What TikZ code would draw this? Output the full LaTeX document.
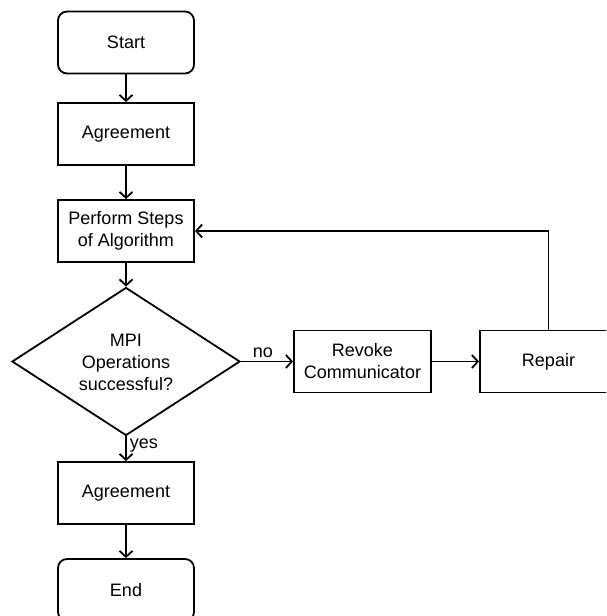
\documentclass[tikz,border=0pt]{standalone}
\usepackage{fontspec}
\setmainfont{Liberation Sans}
\usetikzlibrary{arrows.meta,shapes.geometric}
\begin{document}
\begin{tikzpicture}[x=1pt,y=-1pt,
  line width=1.8pt,
  >={Straight Barb[length=6pt,width=13pt,line width=1.8pt]},
  every node/.style={font=\fontsize{18}{22}\selectfont},
  box/.style={draw,rectangle,minimum width=136pt,minimum height=62pt,
              inner sep=0pt,align=center},
  term/.style={box,rounded corners=9pt},
  decision/.style={draw,diamond,minimum width=228pt,minimum height=148pt,
                   inner sep=0pt},
  flow/.style={->}]
\useasboundingbox (0,0) rectangle (606,616);
\clip (0,0) rectangle (606,616);

% main column
\node[term] (start) at (126,42.5) {Start};
\node[box]  (agr1)  at (126,134)  {Agreement};
\node[box]  (steps) at (126,231)  {Perform Steps\\of Algorithm};
\node[decision,label={[align=center,yshift=-1pt]center:MPI\\Operations\\successful?}]
            (check) at (126,361.5) {};
\node[box]  (agr2)  at (126,493)  {Agreement};
\node[term] (stop)  at (126,590)  {End};

% recovery branch
\node[box,minimum width=137pt] (revoke) at (362.5,361.5) {Revoke\\Communicator};
\node[box,minimum width=137pt] (repair) at (548.5,361.5) {Repair};

% connectors
\draw[flow] (start) -- (agr1);
\draw[flow] (agr1) -- (steps);
\draw[flow] (steps) -- (check.north);
\draw[flow] (check.south) -- node[pos=0.36,anchor=west,inner sep=3pt] (yes) {yes} (agr2);
\draw[flow] (agr2) -- (stop);
\draw[flow] (check.east) -- node[pos=0.42,anchor=south,inner sep=3pt] (no) {no} (revoke.west);
\draw[flow] (revoke) -- (repair);
\draw[flow] (repair.north) |- (steps.east);
\end{tikzpicture}
\end{document}
